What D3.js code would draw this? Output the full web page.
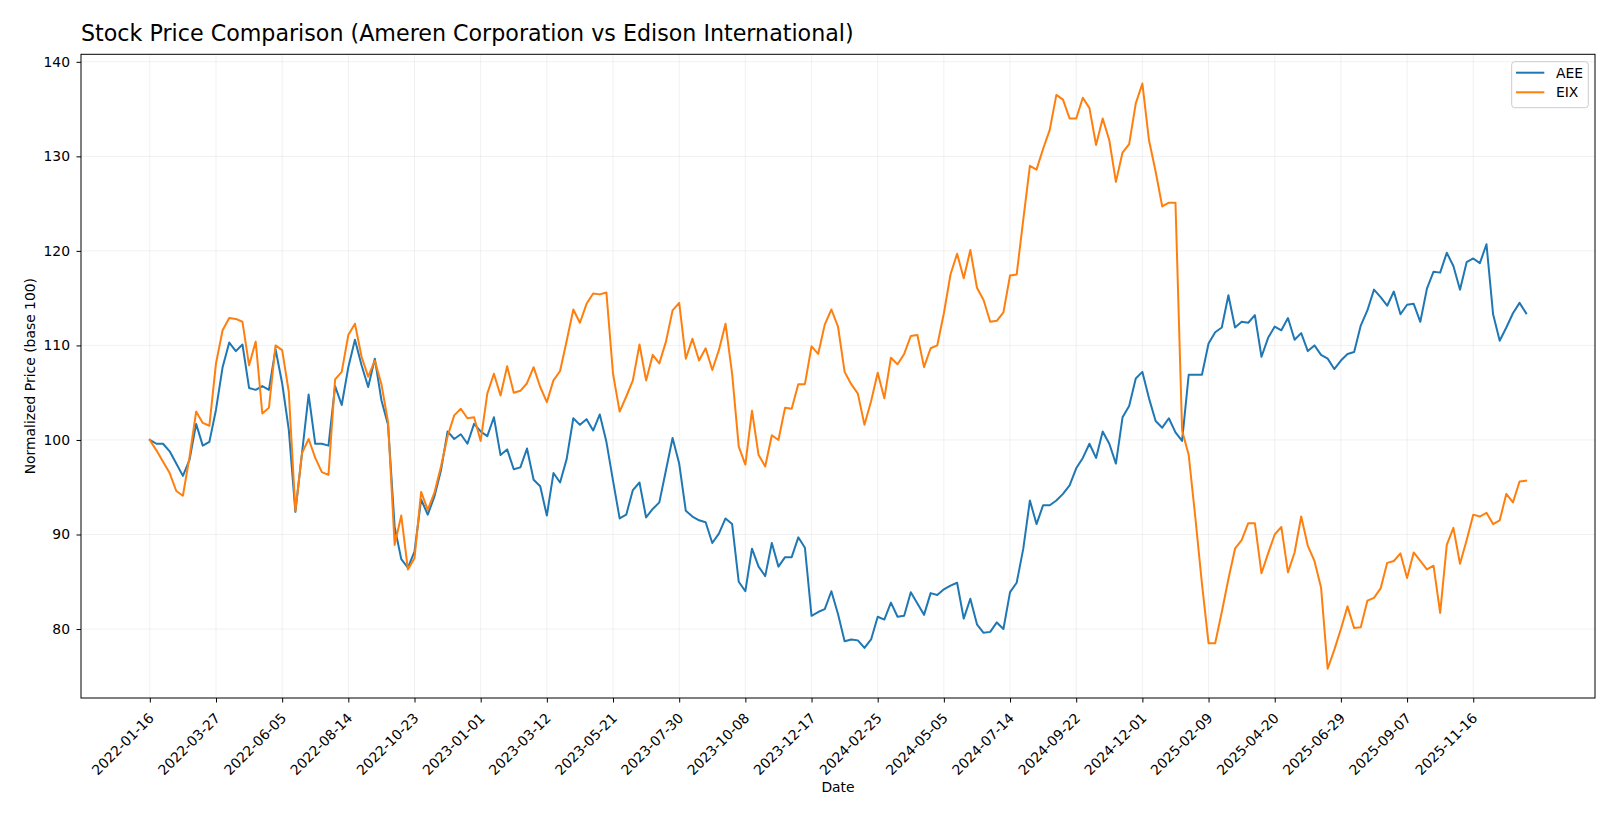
<!DOCTYPE html>
<html>
<head>
<meta charset="utf-8">
<script src="https://cdn.jsdelivr.net/npm/d3@7"></script>
<style>
  html, body { margin: 0; padding: 0; background: #ffffff; }
  svg { display: block; font-family: "DejaVu Sans", sans-serif; }
</style>
</head>
<body>
<svg id="chart" width="1619" height="819"></svg>
<script>
// ---------------- data ----------------
const startDate = "2022-01-16";           // first weekly observation
const seriesNames = ["AEE", "EIX"];
const seriesColors = ["#1f77b4", "#ff7f0e"];

const aeeValues = [
  100.0, 99.6, 99.6, 98.8, 97.5, 96.2, 97.9, 101.7, 99.4, 99.8,
  103.2, 107.7, 110.3, 109.4, 110.1, 105.5, 105.3, 105.7, 105.3, 109.6,
  106.0, 101.1, 92.4, 98.6, 104.8, 99.6, 99.6, 99.4, 105.7, 103.7,
  107.7, 110.6, 107.9, 105.6, 108.6, 104.2, 101.6, 90.8, 87.4, 86.5,
  88.2, 93.7, 92.1, 94.0, 96.8, 100.9, 100.1, 100.6, 99.6, 101.7,
  100.9, 100.4, 102.4, 98.4, 99.0, 96.9, 97.1, 99.1, 95.8, 95.1,
  92.0, 96.5, 95.5, 98.0, 102.3, 101.6, 102.2, 101.0, 102.7, 99.8,
  95.7, 91.7, 92.1, 94.7, 95.5, 91.8, 92.7, 93.4, 96.8, 100.2,
  97.5, 92.5, 91.9, 91.5, 91.3, 89.1, 90.1, 91.7, 91.1, 85.0,
  84.0, 88.5, 86.6, 85.6, 89.1, 86.6, 87.6, 87.6, 89.7, 88.6,
  81.4, 81.8, 82.1, 84.0, 81.6, 78.7, 78.9, 78.8, 78.0, 78.9,
  81.3, 81.0, 82.8, 81.3, 81.4, 83.9, 82.7, 81.5, 83.8, 83.6,
  84.2, 84.6, 84.9, 81.1, 83.2, 80.5, 79.6, 79.7, 80.7, 80.0,
  83.9, 84.9, 88.5, 93.6, 91.1, 93.1, 93.1, 93.6, 94.3, 95.2,
  97.0, 98.1, 99.6, 98.1, 100.9, 99.6, 97.5, 102.4, 103.6, 106.5,
  107.2, 104.4, 102.0, 101.3, 102.3, 100.8, 99.9, 106.9, 106.9, 106.9,
  110.2, 111.4, 111.9, 115.3, 111.9, 112.5, 112.4, 113.2, 108.8, 110.8,
  112.0, 111.6, 112.9, 110.6, 111.3, 109.4, 110.0, 109.0, 108.6, 107.5,
  108.4, 109.1, 109.3, 112.1, 113.7, 115.9, 115.1, 114.2, 115.7, 113.3,
  114.3, 114.4, 112.5, 116.0, 117.8, 117.7, 119.8, 118.4, 115.9, 118.8,
  119.2, 118.7, 120.7, 113.3, 110.5, 111.9, 113.4, 114.5, 113.4
];

const eixValues = [
  100.0, 98.9, 97.7, 96.5, 94.6, 94.1, 98.2, 103.0, 101.8, 101.5,
  108.1, 111.6, 112.9, 112.8, 112.5, 107.9, 110.4, 102.8, 103.4, 110.0,
  109.5, 105.1, 92.5, 98.6, 100.1, 98.1, 96.6, 96.3, 106.4, 107.2,
  111.1, 112.3, 108.8, 106.7, 108.4, 105.9, 101.9, 88.9, 92.0, 86.3,
  87.5, 94.5, 92.6, 94.4, 97.2, 100.4, 102.6, 103.3, 102.3, 102.4,
  99.9, 104.9, 107.0, 104.7, 107.8, 105.0, 105.2, 106.0, 107.7, 105.6,
  104.0, 106.3, 107.3, 110.5, 113.8, 112.4, 114.4, 115.5, 115.4, 115.6,
  107.0, 103.0, 104.6, 106.3, 110.1, 106.3, 109.0, 108.1, 110.4, 113.7,
  114.5, 108.6, 110.7, 108.4, 109.7, 107.4, 109.5, 112.3, 107.0, 99.3,
  97.4, 103.1, 98.4, 97.2, 100.5, 100.0, 103.4, 103.3, 105.9, 105.9,
  109.9, 109.1, 112.2, 113.8, 112.0, 107.2, 105.9, 104.9, 101.6, 104.1,
  107.1, 104.4, 108.7, 108.0, 109.1, 111.0, 111.1, 107.7, 109.7, 110.0,
  113.4, 117.5, 119.7, 117.1, 120.1, 116.1, 114.8, 112.5, 112.6, 113.5,
  117.4, 117.5, 123.3, 129.0, 128.6, 130.8, 132.8, 136.5, 136.0, 134.0,
  134.0, 136.2, 135.1, 131.2, 134.0, 131.7, 127.3, 130.4, 131.3, 135.6,
  137.7, 131.7, 128.4, 124.7, 125.1, 125.1, 101.0, 98.4, 91.8, 84.8,
  78.5, 78.5, 81.8, 85.3, 88.5, 89.4, 91.2, 91.2, 85.9, 88.0,
  90.0, 90.8, 86.0, 88.1, 91.9, 88.8, 87.2, 84.4, 75.8, 77.8,
  80.0, 82.4, 80.1, 80.2, 83.0, 83.3, 84.3, 87.0, 87.2, 88.0,
  85.4, 88.1, 87.2, 86.3, 86.7, 81.7, 88.9, 90.7, 86.9, 89.4,
  92.1, 91.9, 92.3, 91.1, 91.5, 94.3, 93.4, 95.6, 95.7
];

const xTickLabels = [
  "2022-01-16", "2022-03-27", "2022-06-05", "2022-08-14", "2022-10-23",
  "2023-01-01", "2023-03-12", "2023-05-21", "2023-07-30", "2023-10-08",
  "2023-12-17", "2024-02-25", "2024-05-05", "2024-07-14", "2024-09-22",
  "2024-12-01", "2025-02-09", "2025-04-20", "2025-06-29", "2025-09-07",
  "2025-11-16"
];
const yTickValues = [80, 90, 100, 110, 120, 130, 140];

const titleText = "Stock Price Comparison (Ameren Corporation vs Edison International)";
const xLabelText = "Date";
const yLabelText = "Normalized Price (base 100)";

// ---------------- layout ----------------
const W = 1619, H = 819;
const plot = { left: 81, right: 1595, top: 54.3, bottom: 698 };
const FONT = "DejaVu Sans, sans-serif";
const FS = 13.9;

const parse = d3.utcParse("%Y-%m-%d");
const fmt = d3.utcFormat("%Y-%m-%d");
const t0 = parse(startDate);
const dates = aeeValues.map((_, i) => d3.utcDay.offset(t0, 7 * i));

const series = [
  { name: seriesNames[0], color: seriesColors[0], values: aeeValues },
  { name: seriesNames[1], color: seriesColors[1], values: eixValues }
];

// matplotlib-like 5% margins
const tMin = dates[0], tMax = dates[dates.length - 1];
const span = tMax - tMin;
const allVals = aeeValues.concat(eixValues);
const vMin = d3.min(allVals), vMax = d3.max(allVals);
const vSpan = vMax - vMin;

const x = d3.scaleUtc()
  .domain([new Date(+tMin - 0.05 * span), new Date(+tMax + 0.05 * span)])
  .range([plot.left, plot.right]);
const y = d3.scaleLinear()
  .domain([vMin - 0.05 * vSpan, vMax + 0.05 * vSpan])
  .range([plot.bottom, plot.top]);

const svg = d3.select("#chart");
svg.append("rect").attr("width", W).attr("height", H).attr("fill", "#ffffff");

const tickDates = xTickLabels.map(parse);

// grid
const grid = svg.append("g").attr("class", "grid");
grid.selectAll("line.vx").data(tickDates).join("line")
  .attr("x1", d => x(d)).attr("x2", d => x(d))
  .attr("y1", plot.top).attr("y2", plot.bottom)
  .attr("stroke", "#b0b0b0").attr("stroke-opacity", 0.22).attr("stroke-width", 0.8);
grid.selectAll("line.hy").data(yTickValues).join("line")
  .attr("x1", plot.left).attr("x2", plot.right)
  .attr("y1", d => y(d)).attr("y2", d => y(d))
  .attr("stroke", "#b0b0b0").attr("stroke-opacity", 0.22).attr("stroke-width", 0.8);

// lines
const line = d3.line()
  .x((d, i) => x(dates[i]))
  .y(d => y(d));

const linesG = svg.append("g");
series.forEach(s => {
  linesG.append("path")
    .datum(s.values)
    .attr("d", line)
    .attr("fill", "none")
    .attr("stroke", s.color)
    .attr("stroke-width", 2)
    .attr("stroke-linejoin", "round")
    .attr("stroke-linecap", "square");
});

// axes
const xAxis = d3.axisBottom(x)
  .tickValues(tickDates)
  .tickFormat(fmt)
  .tickSize(4.5)
  .tickSizeOuter(0);
const gx = svg.append("g")
  .attr("transform", `translate(0,${plot.bottom})`)
  .call(xAxis);
gx.select(".domain").remove();
gx.selectAll(".tick line").attr("stroke", "#000").attr("stroke-width", 1);
gx.selectAll(".tick text")
  .attr("font-family", FONT)
  .attr("font-size", FS)
  .attr("fill", "#000")
  .attr("text-anchor", "end")
  .attr("x", 4.5)
  .attr("y", 21)
  .attr("dy", 0)
  .attr("transform", "rotate(-45, 4.5, 21)");

const yAxis = d3.axisLeft(y)
  .tickValues(yTickValues)
  .tickFormat(d3.format("d"))
  .tickSize(4.5)
  .tickSizeOuter(0)
  .tickPadding(6.5);
const gy = svg.append("g")
  .attr("transform", `translate(${plot.left},0)`)
  .call(yAxis);
gy.select(".domain").remove();
gy.selectAll(".tick line").attr("stroke", "#000").attr("stroke-width", 1);
gy.selectAll(".tick text")
  .attr("font-family", FONT)
  .attr("font-size", FS)
  .attr("fill", "#000");

// spines
svg.append("rect")
  .attr("x", plot.left).attr("y", plot.top)
  .attr("width", plot.right - plot.left).attr("height", plot.bottom - plot.top)
  .attr("fill", "none").attr("stroke", "#000").attr("stroke-width", 1);

// title and axis labels
svg.append("text")
  .attr("x", plot.left).attr("y", 40.5)
  .attr("font-family", FONT).attr("font-size", 22.2)
  .attr("fill", "#000")
  .text(titleText);

svg.append("text")
  .attr("x", (plot.left + plot.right) / 2).attr("y", 792)
  .attr("text-anchor", "middle")
  .attr("font-family", FONT).attr("font-size", FS)
  .attr("fill", "#000")
  .text(xLabelText);

svg.append("text")
  .attr("transform", `translate(35,${(plot.top + plot.bottom) / 2}) rotate(-90)`)
  .attr("text-anchor", "middle")
  .attr("font-family", FONT).attr("font-size", FS)
  .attr("fill", "#000")
  .text(yLabelText);

// legend
const lg = svg.append("g").attr("transform", "translate(1511.7,61.7)");
lg.append("rect")
  .attr("width", 76.6).attr("height", 46)
  .attr("rx", 3).attr("ry", 3)
  .attr("fill", "#ffffff").attr("fill-opacity", 0.8)
  .attr("stroke", "#cccccc").attr("stroke-width", 1);
series.forEach((s, i) => {
  const yy = 11 + i * 19.6;
  lg.append("line")
    .attr("x1", 4.3).attr("x2", 32.6)
    .attr("y1", yy).attr("y2", yy)
    .attr("stroke", s.color).attr("stroke-width", 2);
  lg.append("text")
    .attr("x", 44.3).attr("y", yy)
    .attr("dy", "0.35em")
    .attr("font-family", FONT).attr("font-size", FS)
    .attr("fill", "#000")
    .text(s.name);
});
</script>
</body>
</html>
